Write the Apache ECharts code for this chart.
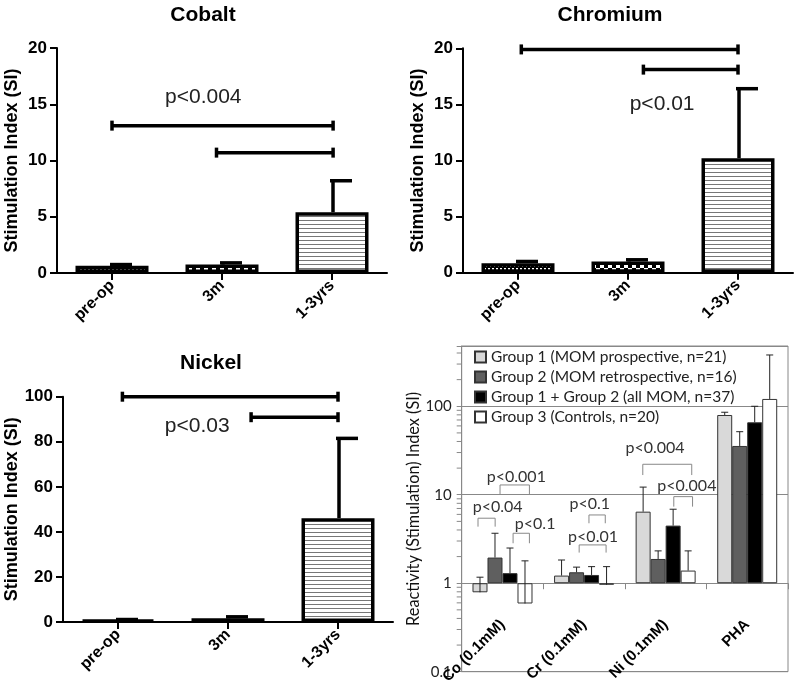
<!DOCTYPE html>
<html><head><meta charset="utf-8">
<script src="https://cdn.jsdelivr.net/npm/echarts@6/dist/echarts.min.js"></script>
<style>html,body{margin:0;padding:0;background:#fff}#c{width:800px;height:690px}</style>
</head><body><div id="c"></div>
<script>
// ---------- data: panels 1-3 ----------
const timeCats = ['pre-op', '3m', '1-3yrs'];
const cobaltMean = [0.65, 0.75, 5.4];
const cobaltErr = [0.1, 0.15, 2.8];
const chromiumMean = [0.85, 1.0, 10.2];
const chromiumErr = [0.15, 0.15, 6.2];
const nickelMean = [0.9, 1.7, 46.1];
const nickelErr = [0.2, 0.6, 35.4];
// significance bars: [from category, to category, level]
const cobaltSig = [[0, 2.01, 13.1], [0.95, 2.01, 10.7]];
const chromiumSig = [[0.03, 2, 19.9], [1.14, 2, 18.1]];
const nickelSig = [[0.04, 2, 100], [1.21, 2, 90.9]];
// p labels: [text, category position, level]
const cobaltP = ['p<0.004', 0.83, 15.6];
const chromiumP = ['p<0.01', 1.31, 15.0];
const nickelP = ['p<0.03', 0.72, 86.7];

// ---------- data: panel 4 ----------
const metalCats = ['Co (0.1mM)', 'Cr (0.1mM)', 'Ni (0.1mM)', 'PHA'];
const groupNames = ['Group 1 (MOM prospective, n=21)', 'Group 2 (MOM retrospective, n=16)',
  'Group 1 + Group 2 (all MOM, n=37)', 'Group 3 (Controls, n=20)'];
const group1Mean = [0.79, 1.22, 6.44, 79.7];
const group1Err = [0.38, 0.61, 5.76, 5.9];
const group2Mean = [1.95, 1.33, 1.88, 35.6];
const group2Err = [1.72, 0.19, 0.44, 16.0];
const group12Mean = [1.3, 1.24, 4.48, 65.9];
const group12Err = [1.2, 0.3, 2.38, 34.1];
const group3Mean = [0.59, 0.96, 1.39, 121];
const group3Err = [1.2, 0.58, 0.93, 259];
const logTickLabels = ['0.1', '1', '10', '100'];
const minorTickVals = [0.2,0.3,0.4,0.5,0.6,0.7,0.8,0.9,2,3,4,5,6,7,8,9,20,30,40,50,60,70,80,90,200,300,400];
// brackets: category, from/to (fraction of category), top level, leg level, text, text pos, text level
const brCat = [0, 0, 0, 1, 1, 2, 2];
const brFrom = [-0.30, -0.03, 0.13, 0.06, -0.06, -0.28, 0.10];
const brTo = [-0.09, 0.33, 0.33, 0.26, 0.27, 0.32, 0.33];
const brTop = [5.43, 12.9, 3.67, 5.91, 2.71, 22.1, 9.52];
const brLeg = [4.36, 10.2, 2.83, 4.76, 2.22, 16.7, 7.34];
const brText = ['p<0.04', 'p<0.001', 'p<0.1', 'p<0.1', 'p<0.01', 'p<0.004', 'p<0.004'];
const brTextX = [-0.06, 0.17, 0.40, 0.07, 0.11, -0.13, 0.26];
const brTextY = [7.34, 16.0, 4.64, 7.8, 3.37, 33.5, 12.7];

const FONT = '"Liberation Sans", Arial, sans-serif';
const XF = 'Lato, "Liberation Sans", sans-serif';
const LOG_MIN = 0.1, LOG_MAX = 480;
const G4 = {left: 461.7, top: 346, width: 326.3, height: 325.7};
const AX_OFF = -G4.height * (0 - Math.log10(LOG_MIN)) / (Math.log10(LOG_MAX) - Math.log10(LOG_MIN));
const BAR_W = 15;
const BAR_OFF = [-1.5 * BAR_W, -0.5 * BAR_W, 0.5 * BAR_W, 1.5 * BAR_W];

function makePattern(w, h, draw) {
  const c = document.createElement('canvas'); c.width = w; c.height = h;
  draw(c.getContext('2d')); return {image: c, repeat: 'repeat'};
}
const patFine = makePattern(4, 4, g => { g.fillStyle = '#000'; g.fillRect(0, 0, 4, 4); g.fillStyle = '#fff'; g.fillRect(0, 0, 2, 2); g.fillRect(2, 2, 1, 1); });
const patCheck = makePattern(8, 8, g => { g.fillStyle = '#000'; g.fillRect(0, 0, 8, 8); g.fillStyle = '#fff'; g.fillRect(0, 0, 4, 4); g.fillRect(4, 4, 4, 4); });
const patLines = makePattern(4, 4, g => { g.fillStyle = '#fff'; g.fillRect(0, 0, 4, 4); g.fillStyle = '#777'; g.fillRect(0, 0, 4, 1); });
const timePatterns = [patFine, patCheck, patLines];

function timeXAxis(gi) {
  return {type: 'category', gridIndex: gi, data: timeCats, boundaryGap: true,
    axisLine: {show: true, onZero: true, lineStyle: {color: '#000', width: 2}},
    axisTick: {show: true, alignWithLabel: true, length: 7, lineStyle: {color: '#000', width: 2}},
    axisLabel: {rotate: 45, interval: 0, margin: 10, color: '#000', fontWeight: 'bold', fontSize: 16, fontFamily: FONT},
    splitLine: {show: false}};
}
function siYAxis(gi, max, interval, fs, gap) {
  return {type: 'value', gridIndex: gi, min: 0, max: max, interval: interval,
    name: 'Stimulation Index (SI)', nameLocation: 'middle', nameGap: gap, nameRotate: 90,
    nameTextStyle: {color: '#000', fontWeight: 'bold', fontSize: 18, fontFamily: FONT},
    axisLine: {show: true, lineStyle: {color: '#000', width: 2}},
    axisTick: {show: true, length: 7, lineStyle: {color: '#000', width: 2}},
    axisLabel: {margin: 10, color: '#000', fontWeight: 'bold', fontSize: fs, fontFamily: FONT},
    splitLine: {show: false}};
}
function timeBars(gi, means) {
  return {type: 'bar', xAxisIndex: gi, yAxisIndex: gi, barWidth: 73, silent: true, z: 2,
    itemStyle: {borderColor: '#000', borderWidth: 3.5},
    data: means.map((v, i) => ({value: v, itemStyle: {color: timePatterns[i]}}))};
}
function timeErr(gi, means, errs) {
  return {type: 'custom', xAxisIndex: gi, yAxisIndex: gi, silent: true, z: 3,
    data: means.map((m, i) => [i, m, errs[i]]), encode: {x: 0, y: 1},
    renderItem(params, api) {
      const i = api.value(0), m = api.value(1), e = api.value(2);
      const p0 = api.coord([i, m]), p1 = api.coord([i, m + e]);
      const x = p0[0] + 1;
      const st = {stroke: '#000', lineWidth: 3.5};
      return {type: 'group', children: [
        {type: 'line', shape: {x1: x, y1: p0[1], x2: x, y2: p1[1]}, style: st},
        {type: 'line', shape: {x1: x - 3, y1: p1[1], x2: x + 19, y2: p1[1]}, style: st}]};
    }};
}
function timeSig(gi, sigs, pLabel) {
  return {type: 'custom', xAxisIndex: gi, yAxisIndex: gi, silent: true, z: 4,
    data: sigs.map(s => [0, s[2]]).concat([[0, pLabel[2]]]), encode: {x: 0, y: 1},
    renderItem(params, api) {
      const cs = params.coordSys, bw = cs.width / timeCats.length;
      const idx = params.dataIndex;
      if (idx === sigs.length) {
        const y = api.coord([0, pLabel[2]])[1];
        return {type: 'text', x: cs.x + (pLabel[1] + 0.5) * bw, y: y,
          style: {text: pLabel[0], fill: '#222', font: '21px ' + FONT, align: 'center', verticalAlign: 'middle', textAlign: 'center', textVerticalAlign: 'middle'}};
      }
      const s = sigs[idx];
      const y = api.coord([0, s[2]])[1];
      const x0 = cs.x + (s[0] + 0.5) * bw, x1 = cs.x + (s[1] + 0.5) * bw;
      const st = {stroke: '#000', lineWidth: 3.5};
      return {type: 'group', children: [
        {type: 'line', shape: {x1: x0, y1: y, x2: x1, y2: y}, style: st},
        {type: 'line', shape: {x1: x0, y1: y - 5, x2: x0, y2: y + 5}, style: st},
        {type: 'line', shape: {x1: x1, y1: y - 5, x2: x1, y2: y + 5}, style: st}]};
    }};
}

const groupMeans = [group1Mean, group2Mean, group12Mean, group3Mean];
const groupErrs = [group1Err, group2Err, group12Err, group3Err];
const groupFill = ['#d9d9d9', '#5f5f5f', '#000000', '#ffffff'];

const series = [
  timeBars(0, cobaltMean), timeErr(0, cobaltMean, cobaltErr), timeSig(0, cobaltSig, cobaltP),
  timeBars(1, chromiumMean), timeErr(1, chromiumMean, chromiumErr), timeSig(1, chromiumSig, chromiumP),
  timeBars(2, nickelMean), timeErr(2, nickelMean, nickelErr), timeSig(2, nickelSig, nickelP)
];
groupNames.forEach((name, s) => {
  series.push({type: 'bar', name: name, xAxisIndex: 3, yAxisIndex: 3, barWidth: BAR_W, barGap: '0%', silent: true, z: 2,
    itemStyle: {color: groupFill[s], borderColor: '#333', borderWidth: 1},
    data: groupMeans[s]});
});
series.push({type: 'custom', xAxisIndex: 3, yAxisIndex: 3, silent: true, z: 3,
  data: groupMeans.flatMap((g, s) => g.map((m, c) => [c, m, groupErrs[s][c], s])), encode: {x: 0, y: 1},
  renderItem(params, api) {
    const c = api.value(0), m = api.value(1), e = api.value(2), s = api.value(3);
    const p0 = api.coord([c, m]), p1 = api.coord([c, m + e]);
    const x = p0[0] + BAR_OFF[s];
    const st = {stroke: '#222', lineWidth: 1};
    return {type: 'group', children: [
      {type: 'line', shape: {x1: x, y1: p0[1], x2: x, y2: p1[1]}, style: st},
      {type: 'line', shape: {x1: x - 3.5, y1: p1[1], x2: x + 3.5, y2: p1[1]}, style: st}]};
  }});
series.push({type: 'custom', xAxisIndex: 3, yAxisIndex: 3, silent: true, z: 4,
  data: brCat.map((c, i) => [c, brTop[i], i]), encode: {x: 0, y: 1},
  renderItem(params, api) {
    const i = api.value(2), c = api.value(0);
    const cs = params.coordSys, bw = cs.width / metalCats.length;
    const cx = cs.x + (c + 0.5) * bw;
    const x0 = cx + brFrom[i] * bw, x1 = cx + brTo[i] * bw;
    const yT = api.coord([c, brTop[i]])[1], yL = api.coord([c, brLeg[i]])[1];
    const yTxt = api.coord([c, brTextY[i]])[1];
    return {type: 'group', children: [
      {type: 'polyline', shape: {points: [[x0, yL], [x0, yT], [x1, yT], [x1, yL]]}, style: {stroke: '#888', lineWidth: 1, fill: null}},
      {type: 'text', x: cx + brTextX[i] * bw, y: yTxt,
        style: {text: brText[i], fill: '#333', font: '16px ' + XF, align: 'center', verticalAlign: 'middle', textAlign: 'center', textVerticalAlign: 'middle'}}]};
  }});
series.push({type: 'custom', xAxisIndex: 3, yAxisIndex: 3, silent: true, z: 4,
  data: minorTickVals.map(v => [0, v]), encode: {x: 0, y: 1},
  renderItem(params, api) {
    const y = api.coord([0, api.value(1)])[1], x = params.coordSys.x;
    return {type: 'line', shape: {x1: x - 5, y1: y, x2: x, y2: y}, style: {stroke: '#888', lineWidth: 1}};
  }});

const option = {
  animation: false,
  backgroundColor: '#fff',
  grid: [
    {left: 57, top: 48, width: 330, height: 225, outerBoundsMode: 'none', containLabel: false},
    {left: 463, top: 48.3, width: 330, height: 224.4, outerBoundsMode: 'none', containLabel: false},
    {left: 63, top: 396.7, width: 330, height: 225.3, outerBoundsMode: 'none', containLabel: false},
    {left: G4.left, top: G4.top, width: G4.width, height: G4.height, show: true, borderColor: '#888', borderWidth: 1,
      outerBoundsMode: 'none', containLabel: false}
  ],
  xAxis: [timeXAxis(0), timeXAxis(1), timeXAxis(2),
    {type: 'category', gridIndex: 3, data: metalCats, position: 'bottom', offset: AX_OFF, boundaryGap: true,
      axisLine: {show: false, onZero: false},
      axisTick: {show: true, length: 6, lineStyle: {color: '#888'}},
      axisLabel: {rotate: 45, interval: 0, margin: 39, fontWeight: 'bold', fontSize: 15, color: '#000', fontFamily: FONT},
      splitLine: {show: false}}],
  yAxis: [siYAxis(0, 20, 5, 17, 36), siYAxis(1, 20, 5, 17, 36), siYAxis(2, 100, 20, 17, 42),
    {type: 'log', gridIndex: 3, logBase: 10, min: LOG_MIN, max: LOG_MAX,
      name: 'Reactivity (Stimulation) Index (SI)', nameLocation: 'middle', nameGap: 30, nameRotate: 90,
      nameTextStyle: {fontFamily: XF, fontSize: 16.3, color: '#111'},
      axisLine: {show: true, lineStyle: {color: '#888'}},
      axisTick: {show: true, length: 5, lineStyle: {color: '#888'}},
      axisLabel: {margin: 10, fontFamily: XF, fontSize: 15, color: '#222',
        formatter: v => { const l = Math.log10(v); const r = Math.round(l);
          return Math.abs(l - r) < 1e-6 ? (logTickLabels[r + 1] || '') : ''; }},
      splitLine: {show: true, lineStyle: {color: '#888', width: 1}}}],
  legend: {data: groupNames, orient: 'vertical', left: 474, top: 349, itemWidth: 11, itemHeight: 11, itemGap: 4,
    icon: 'rect', selectedMode: false, padding: 0,
    textStyle: {fontFamily: XF, fontSize: 15.5, color: '#222'}},
  graphic: [
    {type: 'text', x: 203, y: 15, style: {text: 'Cobalt', fill: '#000', font: 'bold 21px ' + FONT, align: 'center', verticalAlign: 'middle', textAlign: 'center', textVerticalAlign: 'middle'}},
    {type: 'text', x: 610, y: 15, style: {text: 'Chromium', fill: '#000', font: 'bold 21px ' + FONT, align: 'center', verticalAlign: 'middle', textAlign: 'center', textVerticalAlign: 'middle'}},
    {type: 'text', x: 211, y: 363, style: {text: 'Nickel', fill: '#000', font: 'bold 21px ' + FONT, align: 'center', verticalAlign: 'middle', textAlign: 'center', textVerticalAlign: 'middle'}}
  ],
  series: series
};
const chart = echarts.init(document.getElementById('c'));
chart.setOption(option);
</script></body></html>
